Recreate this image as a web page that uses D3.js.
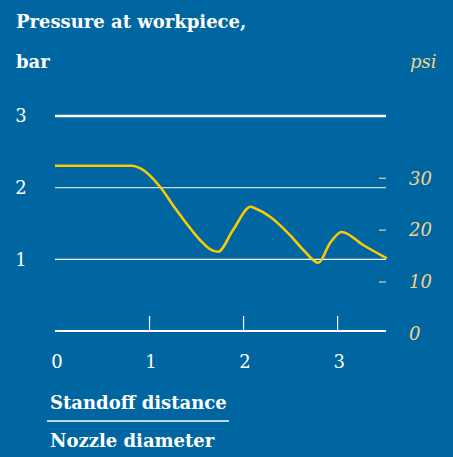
<!DOCTYPE html>
<html>
<head>
<meta charset="utf-8">
<script src="https://cdn.jsdelivr.net/npm/d3@7"></script>
<style>
  body { margin: 0; background: #0066a2; }
  svg { display: block; }
  text { font-family: "DejaVu Serif", serif; }
</style>
</head>
<body>
<div id="chart"></div>
<script>
// Data
let ratio = [0, 0.45, 0.819, 0.904, 1.117, 1.276, 1.436, 1.542, 1.648, 1.735, 1.893, 2.081, 2.127, 2.287, 2.499, 2.659, 2.801, 2.925, 3.049, 3.276, 3.528];
let pressure = [2.306, 2.306, 2.306, 2.272, 2.013, 1.716, 1.437, 1.27, 1.144, 1.106, 1.409, 1.734, 1.712, 1.595, 1.339, 1.106, 0.953, 1.228, 1.381, 1.2, 1.014];
let barTicks = [1, 2, 3];
let psiTicks = [10, 20, 30];
let psiLabels = [0, 10, 20, 30];
let xTicks = [1, 2, 3];
let xLabels = [0, 1, 2, 3];

let width = 453,
  height = 457;

let bg = "#0066a2";
let lineColor = "#fcca00";
let psiColor = "#efd58c";

let svg = d3
  .select("#chart")
  .append("svg")
  .attr("width", width)
  .attr("height", height);

svg.append("rect").attr("width", width).attr("height", height).attr("fill", bg);

// Scales
let x = d3.scaleLinear().domain([0, 3.52]).range([55, 386]);
let y = d3.scaleLinear().domain([0, 3]).range([331, 116]);
let yPsi = d3.scaleLinear().domain([0, 30]).range([333.8, 178.3]);

// Title
svg.append("text")
  .attr("x", 16).attr("y", 28)
  .attr("fill", "#fff")
  .attr("font-weight", "bold")
  .attr("font-size", 18)
  .text("Pressure at workpiece,");
svg.append("text")
  .attr("x", 16).attr("y", 68)
  .attr("fill", "#fff")
  .attr("font-weight", "bold")
  .attr("font-size", 18)
  .text("bar");
svg.append("text")
  .attr("x", 410).attr("y", 68)
  .attr("fill", psiColor)
  .attr("font-style", "italic")
  .attr("font-size", 18)
  .text("psi");

// Horizontal grid lines (bar)
svg.append("g")
  .selectAll("line")
  .data(barTicks)
  .join("line")
  .attr("x1", x(0))
  .attr("x2", x(3.52))
  .attr("y1", (d) => y(d))
  .attr("y2", (d) => y(d))
  .attr("stroke", (d) => (d === 2 ? "#c4dcec" : "#fff"))
  .attr("stroke-width", (d) => (d === 3 ? 2.4 : 1.3));

// Left labels
svg.append("g")
  .selectAll("text")
  .data(barTicks)
  .join("text")
  .attr("x", 21)
  .attr("y", (d) => y(d))
  .attr("dy", "0.35em")
  .attr("text-anchor", "middle")
  .attr("fill", "#fff")
  .attr("font-size", 18)
  .text((d) => d);

// Bottom axis
let xAxis = d3.axisBottom(x).tickValues(xTicks).tickSize(0).tickFormat("");
let xAxisEl = svg.append("g").attr("transform", "translate(0,331)").call(xAxis);
xAxisEl.select(".domain").remove();
xAxisEl.append("line")
  .attr("x1", x(0)).attr("x2", x(3.52))
  .attr("stroke", "#fff").attr("stroke-width", 2.2);
xAxisEl.selectAll(".tick line")
  .attr("y2", -15)
  .attr("stroke", "#fff")
  .attr("stroke-width", 1.2);

svg.append("g")
  .selectAll("text")
  .data(xLabels)
  .join("text")
  .attr("x", (d) => x(d) + 2)
  .attr("y", 362)
  .attr("dy", "0.35em")
  .attr("text-anchor", "middle")
  .attr("fill", "#fff")
  .attr("font-size", 18)
  .text((d) => d);

// Right psi axis
svg.append("g")
  .selectAll("line")
  .data(psiTicks)
  .join("line")
  .attr("x1", 379).attr("x2", 386)
  .attr("y1", (d) => yPsi(d))
  .attr("y2", (d) => yPsi(d))
  .attr("stroke", "#c9c493")
  .attr("stroke-width", 1.4);

svg.append("g")
  .selectAll("text")
  .data(psiLabels)
  .join("text")
  .attr("x", 409)
  .attr("y", (d) => yPsi(d))
  .attr("dy", "0.35em")
  .attr("fill", psiColor)
  .attr("font-style", "italic")
  .attr("font-size", 18)
  .text((d) => d);

// Curve
let pts = ratio.map((r, i) => [r, pressure[i]]);
let line = d3.line()
  .x((d) => x(d[0]))
  .y((d) => y(d[1]))
  .curve(d3.curveMonotoneX);
svg.append("path")
  .datum(pts)
  .attr("d", line)
  .attr("fill", "none")
  .attr("stroke", lineColor)
  .attr("stroke-width", 2.6);

// x-axis title as a fraction
svg.append("text")
  .attr("x", 50).attr("y", 409)
  .attr("fill", "#fff")
  .attr("font-weight", "bold")
  .attr("font-size", 18)
  .text("Standoff distance");
svg.append("line")
  .attr("x1", 47).attr("x2", 229)
  .attr("y1", 421).attr("y2", 421)
  .attr("stroke", "#fff")
  .attr("stroke-width", 1.5);
svg.append("text")
  .attr("x", 50).attr("y", 447)
  .attr("fill", "#fff")
  .attr("font-weight", "bold")
  .attr("font-size", 18)
  .text("Nozzle diameter");
</script>
</body>
</html>
